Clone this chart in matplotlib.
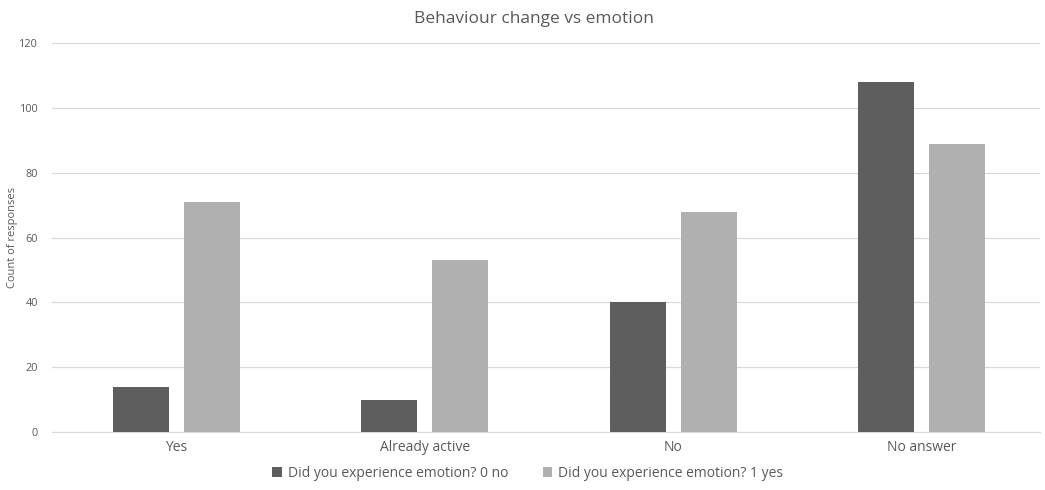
import numpy as np
import matplotlib
matplotlib.use("Agg")
import matplotlib.pyplot as plt

plt.rcParams["font.family"] = ["Open Sans", "DejaVu Sans"]

categories = ["Yes", "Already active", "No", "No answer"]
emotion_no = [14, 10, 40, 108]
emotion_yes = [71, 53, 68, 89]
series_labels = ["Did you experience emotion? 0 no", "Did you experience emotion? 1 yes"]
yticks = [0, 20, 40, 60, 80, 100, 120]

TXT = "#595959"
fig = plt.figure(figsize=(10.45, 4.9), dpi=100)
ax = fig.add_axes([52 / 1045, 0.1184, 988 / 1045, 0.7936])

x = np.arange(len(categories))
w = 0.225
off = 0.143
ax.bar(x - off, emotion_no, w, color="#5e5e5e", label=series_labels[0], zorder=3)
ax.bar(x + off, emotion_yes, w, color="#b0b0b0", label=series_labels[1], zorder=3)

ax.set_xlim(-0.5, len(categories) - 0.5 - 6 / 248.5)
ax.set_ylim(0, 120)
ax.set_yticks(yticks)
ax.set_xticks(x)
ax.set_xticklabels(categories, fontsize=10, color=TXT)
ax.tick_params(axis="y", labelsize=7.8, labelcolor=TXT, length=0, pad=10)
ax.tick_params(axis="x", length=0, pad=6)
ax.yaxis.grid(True, color="#d9d9d9", lw=0.9, zorder=0)
for sp in ["top", "right", "left"]:
    ax.spines[sp].set_visible(False)
ax.spines["bottom"].set_color("#d9d9d9")
fig.text(13 / 1045, 0.5 * (0.1184 + 0.912), "Count of responses", rotation=90,
         ha="center", va="center", fontsize=8, color=TXT)

fig.suptitle("Behaviour change vs emotion", x=0.5105, y=0.978, fontsize=12.5, color=TXT)
fig.legend(loc="lower center", bbox_to_anchor=(0.505, -0.007), ncol=2, frameon=False,
           fontsize=10, handlelength=0.7, handleheight=0.7, handletextpad=0.4,
           columnspacing=2.5, labelcolor=TXT)

fig.savefig("out.png", dpi=100)
